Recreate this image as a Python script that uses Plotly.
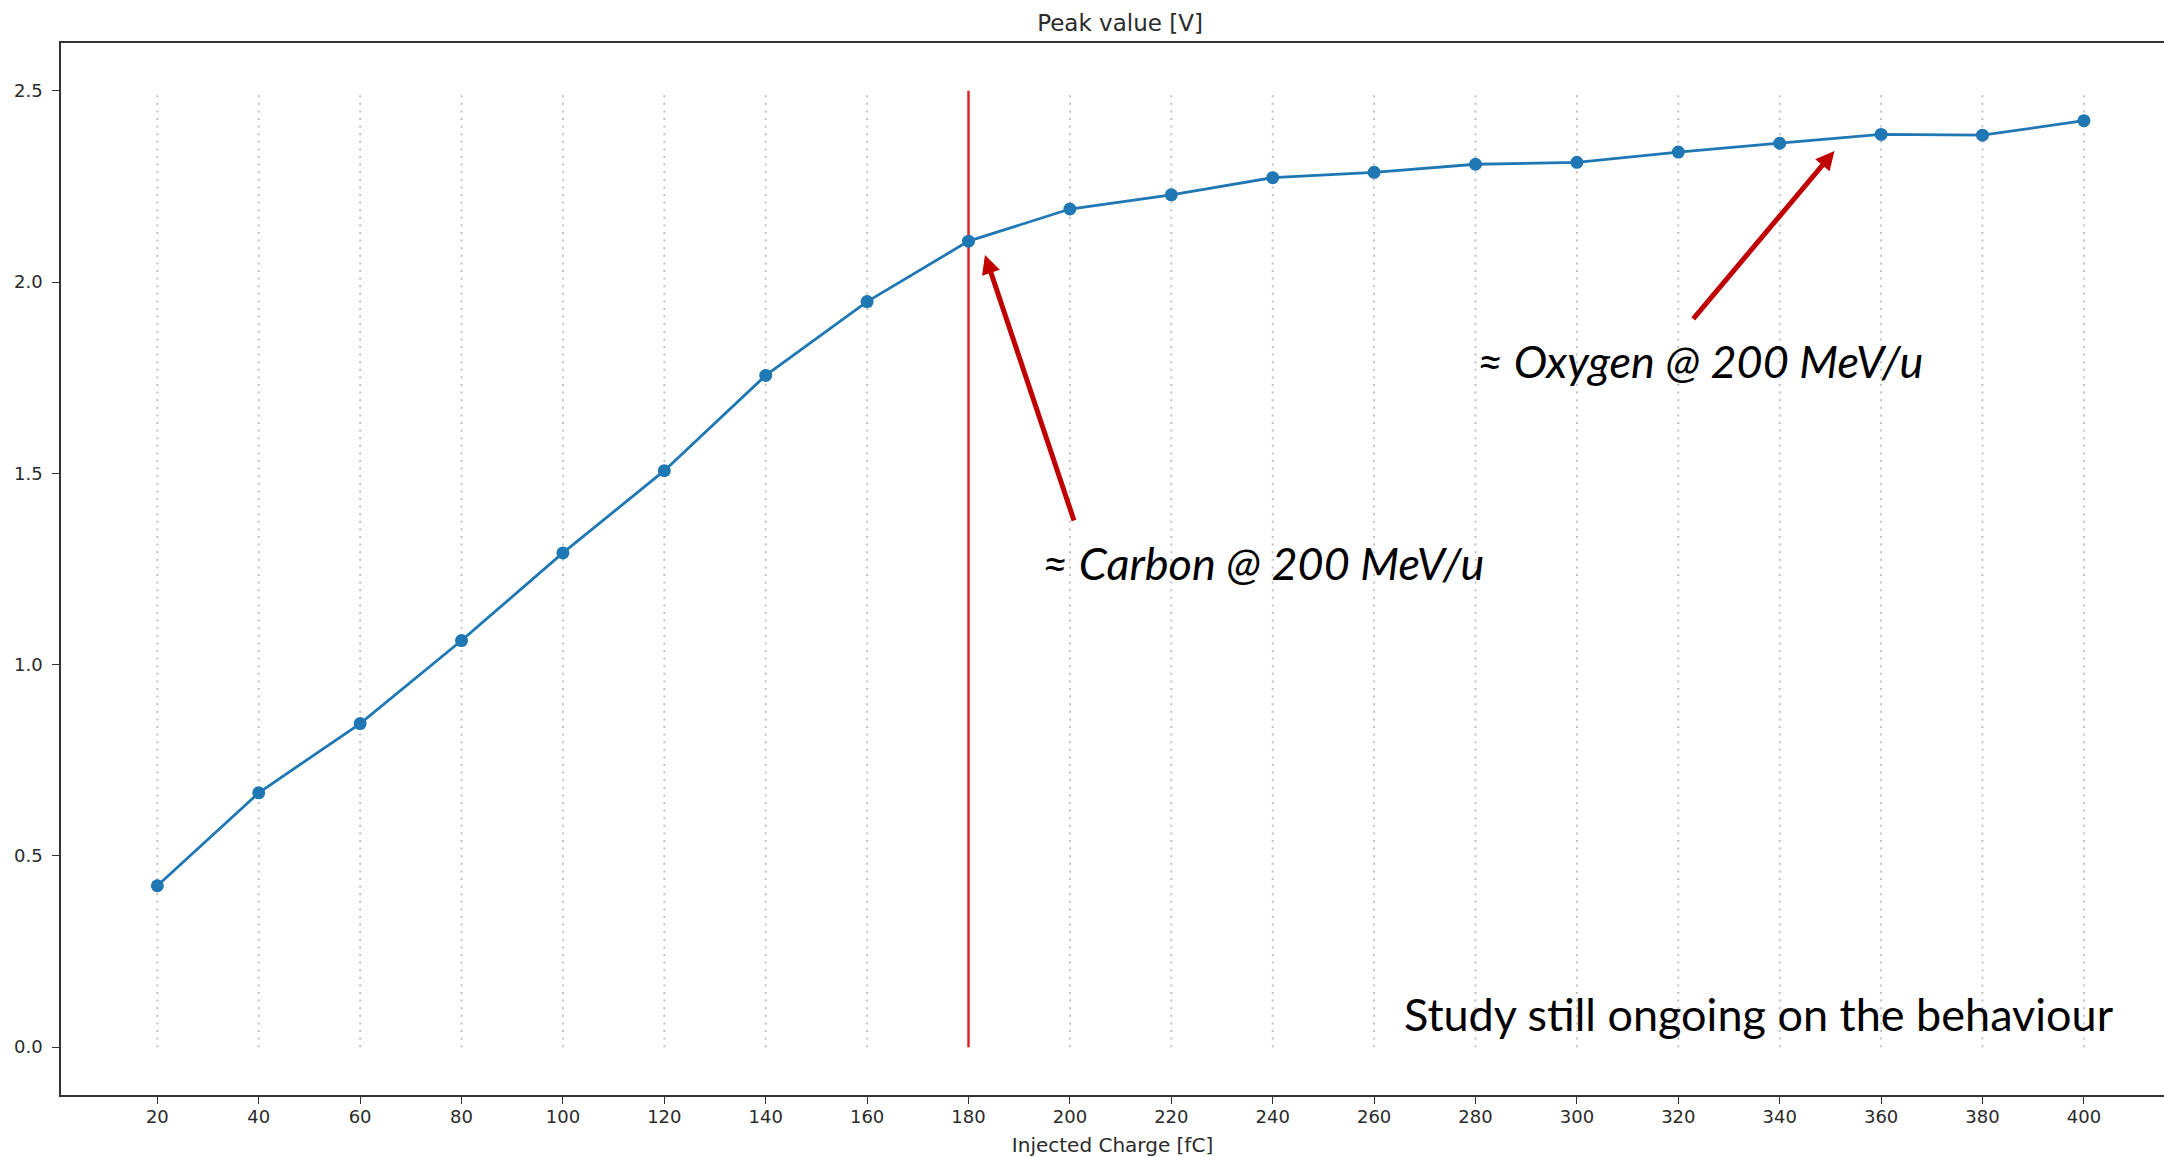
import plotly.graph_objects as go

# Injected charge sweep and measured peak amplitude
charge_fc = [20, 40, 60, 80, 100, 120, 140, 160, 180, 200,
             220, 240, 260, 280, 300, 320, 340, 360, 380, 400]
peak_v = [0.422, 0.665, 0.846, 1.063, 1.292, 1.507, 1.756, 1.949, 2.107, 2.191,
          2.228, 2.273, 2.287, 2.308, 2.313, 2.340, 2.363, 2.386, 2.384, 2.422]

y_ticks = [0.0, 0.5, 1.0, 1.5, 2.0, 2.5]
guide_bottom, guide_top = 0.0, 2.5
carbon_charge = 180

tick_font = dict(family="DejaVu Sans", size=18, color="#2b2b2b")
note_font = "Lato"

fig = go.Figure()

# dotted vertical guides at every sample charge
gx, gy = [], []
for c in charge_fc:
    gx += [c, c, None]
    gy += [guide_bottom, guide_top, None]
fig.add_trace(go.Scatter(
    x=gx, y=gy, mode="lines", hoverinfo="skip", showlegend=False,
    line=dict(color="#bdbdbd", width=1.8, dash="2px,5.6px"),
))

# reference line at the carbon working point
fig.add_trace(go.Scatter(
    x=[carbon_charge, carbon_charge], y=[guide_bottom, guide_top],
    mode="lines", hoverinfo="skip", showlegend=False,
    line=dict(color="#dc2026", width=2.4),
))

# measured curve
fig.add_trace(go.Scatter(
    x=charge_fc, y=peak_v, mode="lines+markers", showlegend=False,
    line=dict(color="#1f77b4", width=2.8),
    marker=dict(color="#1f77b4", size=13, symbol="circle"),
))

arrow_style = dict(showarrow=True, text="", arrowhead=2, arrowsize=0.75,
                   arrowwidth=5, arrowcolor="#c00000", standoff=0,
                   startstandoff=0, axref="x", ayref="y", xref="x", yref="y")

annotations = [
    dict(x=183.25, y=2.071, ax=200.9, ay=1.373, **arrow_style),
    dict(x=350.8, y=2.343, ax=322.7, ay=1.900, **arrow_style),
    dict(x=194.1, y=1.266, xref="x", yref="y", showarrow=False,
         xanchor="left", yanchor="middle", text="<i>≈ Carbon @ 200 MeV/u</i>",
         font=dict(family=note_font, size=45, color="#000000")),
    dict(x=279.9, y=1.794, xref="x", yref="y", showarrow=False,
         xanchor="left", yanchor="middle", text="<i>≈ Oxygen @ 200 MeV/u</i>",
         font=dict(family=note_font, size=45, color="#000000")),
    dict(x=265.5, y=0.087, xref="x", yref="y", showarrow=False,
         xanchor="left", yanchor="middle", text="Study still ongoing on the behaviour",
         font=dict(family=note_font, size=45, color="#000000")),
]

fig.update_layout(
    width=2164, height=1157,
    margin=dict(l=61, r=0, t=43, b=62),
    paper_bgcolor="white", plot_bgcolor="white",
    title=dict(text="Peak value [V]", x=1120 / 2164, xref="container",
               y=1 - 22.7 / 1157, yref="container", xanchor="center", yanchor="middle",
               font=dict(family="DejaVu Sans", size=23, color="#2b2b2b")),
    annotations=annotations,
    xaxis=dict(
        range=[1.0, 415.8], tickvals=charge_fc, ticktext=[str(c) for c in charge_fc],
        showgrid=False, zeroline=False, showline=True, linecolor="#333333", linewidth=1.6,
        mirror=True, ticks="outside", ticklen=7, tickwidth=1.4, tickcolor="#333333",
        tickfont=tick_font, ticklabelstandoff=-2,
        title=dict(text="Injected Charge [fC]", standoff=12,
                   font=dict(family="DejaVu Sans", size=20, color="#2b2b2b")),
    ),
    yaxis=dict(
        range=[-0.125, 2.625], tickvals=y_ticks, ticktext=[f"{v:.1f}" for v in y_ticks],
        showgrid=False, zeroline=False, showline=True, linecolor="#333333", linewidth=1.6,
        mirror=False, ticks="outside", ticklen=7, tickwidth=1.4, tickcolor="#333333",
        tickfont=tick_font, ticklabelstandoff=6,
    ),
)

fig.write_html("out.html")
